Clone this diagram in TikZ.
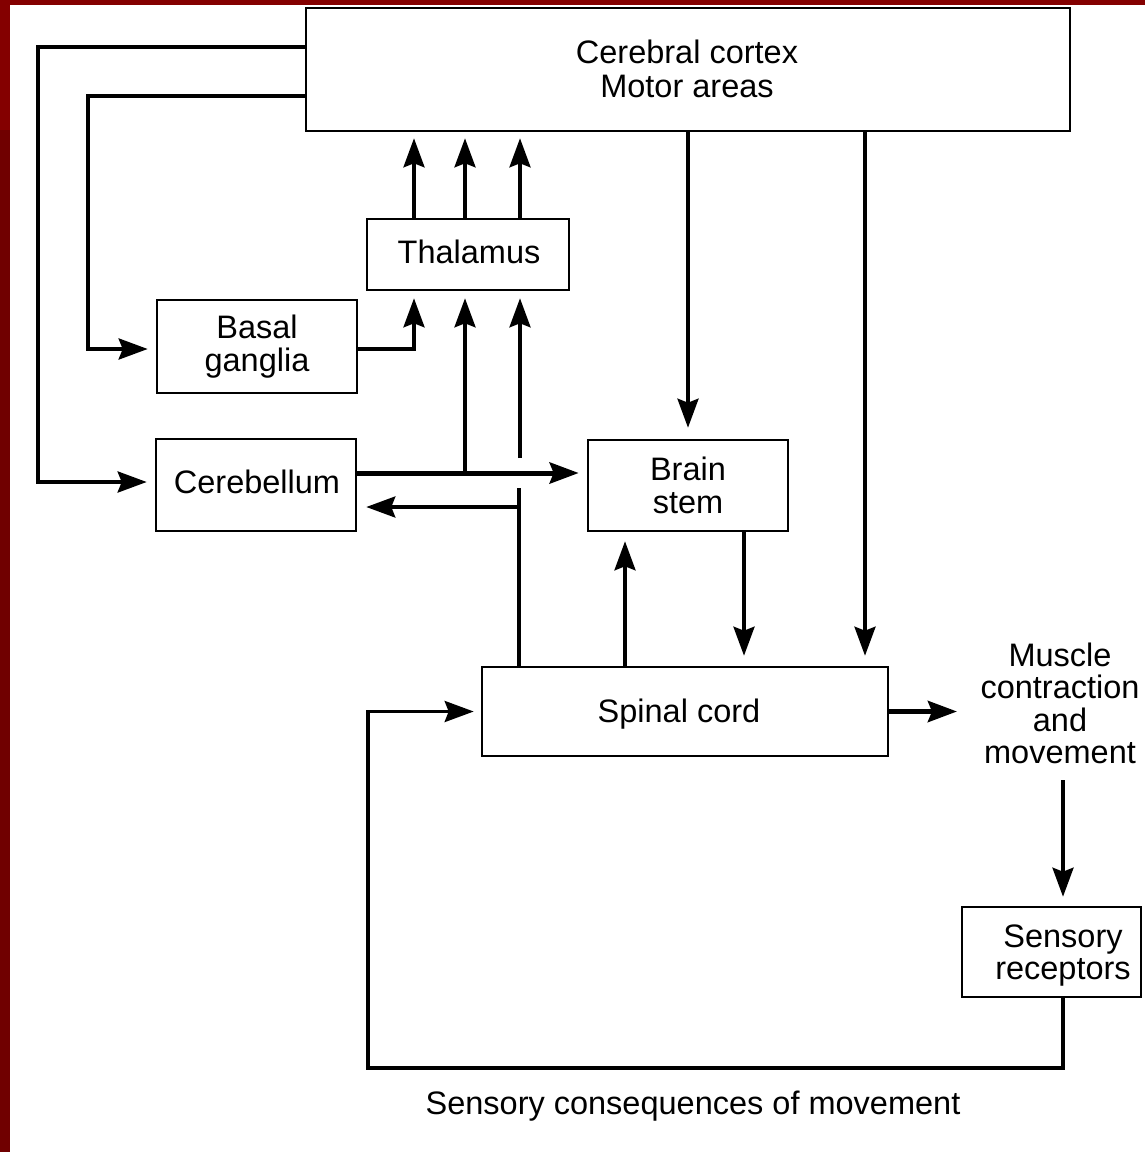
\documentclass[tikz,border=0pt]{standalone}
\usepackage{fontspec}
\setmainfont{Liberation Sans}
\usetikzlibrary{arrows.meta,calc}
\definecolor{redA}{RGB}{132,0,0}
\definecolor{redB}{RGB}{112,0,0}
\tikzset{
  box/.style={draw=black, line width=2.6pt, inner sep=0pt, align=center,
    font=\fontsize{32.5}{33}\selectfont},
  lbl/.style={inner sep=0pt, align=center, font=\fontsize{32.5}{33}\selectfont},
  con/.style={line width=3.5pt, draw=black},
  arr/.style={con, -{Stealth[length=29pt,width=21pt,inset=4pt]}},
  fatarr/.style={arr, line width=5pt}
}
\begin{document}
\begin{tikzpicture}[x=1pt,y=-1pt]
\useasboundingbox (0,0) rectangle (1145,1152);
\fill[white] (0,0) rectangle (1145,1152);
\fill[redA] (0,0) rectangle (1145,5);
\fill[redA] (0,0) rectangle (10,130);
\fill[redB] (0,130) rectangle (10,1152);

% boxes
\node[box, minimum width=764pt, minimum height=123pt] (cortex) at (688,69.5) {};
\node[lbl, font=\fontsize{32.5}{34}\selectfont] (cortext) at (687,69) {Cerebral cortex\\Motor areas};
\node[box, minimum width=202pt, minimum height=71pt] (thal) at (468,254.5) {};
\node[lbl] (thaltext) at (469,252) {Thalamus};
\node[box, minimum width=200pt, minimum height=93pt] (basal) at (257,346.5) {Basal\\ganglia};
\node[box, minimum width=200pt, minimum height=92pt] (cereb) at (256,485) {};
\node[lbl] (cerebtext) at (257,482) {Cerebellum};
\node[box, minimum width=200pt, minimum height=91pt] (brain) at (688,485.5) {Brain\\stem};
\node[box, minimum width=406pt, minimum height=89pt] (spinal) at (685,711.5) {};
\node[lbl] (spinaltext) at (679,714) {Spinal cord};
\node[lbl, font=\fontsize{32.5}{32.5}\selectfont] (muscle) at (1060,703.5) {Muscle\\contraction\\and\\movement};
\node[box, minimum width=179pt, minimum height=90pt] (sensory) at (1051.5,952) {};
\node[lbl, font=\fontsize{32.5}{32}\selectfont] (sensorytext) at (1063,956) {Sensory\\receptors};
\node[lbl] (conseq) at (693,1106) {Sensory consequences of movement};

% cortex -> cerebellum / basal ganglia
\draw[arr, line width=3.8pt, shorten >=8pt] (cortex.west |- 0,47) -| (38,482) -- (cereb.west |- 0,482);
\draw[arr, line width=3.8pt, shorten >=8pt] (cortex.west |- 0,96) -| (88,349) -- (basal.west |- 0,349);

% basal -> thalamus
\draw[arr, shorten >=7pt] (basal.east |- 0,349) -| (414,0 |- thal.south);

% thalamus -> cortex
\foreach \xx in {414,465,520}
  \draw[arr, shorten >=6pt] (\xx,0 |- thal.north) -- (\xx,0 |- cortex.south);

% cerebellum -> brain stem, branch to thalamus
\coordinate (j1) at (465,473);
\draw[fatarr, shorten >=8pt] (cereb.east |- j1) -- (brain.west |- j1);
\draw[arr, shorten >=7pt] (j1) -- (465,0 |- thal.south);

% spinal cord -> thalamus (crossing with gap) and -> cerebellum
\coordinate (j2) at (519,507);
\draw[con] (519,0 |- spinal.north) -- (519,488);
\draw[arr, shorten >=7pt] (520,458) -- (520,0 |- thal.south);
\draw[arr, shorten >=9pt] (j2) -- (cereb.east |- j2);

% cortex -> brain stem, cortex -> spinal cord
\draw[arr, shorten >=11pt] (cortex.south -| brain.north) -- (brain.north);
\draw[arr, shorten >=10pt] (865,0 |- cortex.south) -- (865,0 |- spinal.north);

% brain stem <-> spinal cord
\draw[arr, shorten >=10pt] (744,0 |- brain.south) -- (744,0 |- spinal.north);
\draw[arr, shorten >=9pt] (625,0 |- spinal.north) -- (625,0 |- brain.south);

% spinal cord -> muscle
\draw[fatarr] (spinal.east) -- (957,711.5);

% muscle -> sensory receptors
\coordinate (mbot) at (1063,780);
\draw[arr, shorten >=9pt] (mbot) -- (mbot |- sensory.north);

% sensory receptors -> spinal cord (feedback loop)
\draw[arr, shorten >=7pt] (1063,0 |- sensory.south) |- (368,1068) |- (spinal.west);
\end{tikzpicture}
\end{document}
